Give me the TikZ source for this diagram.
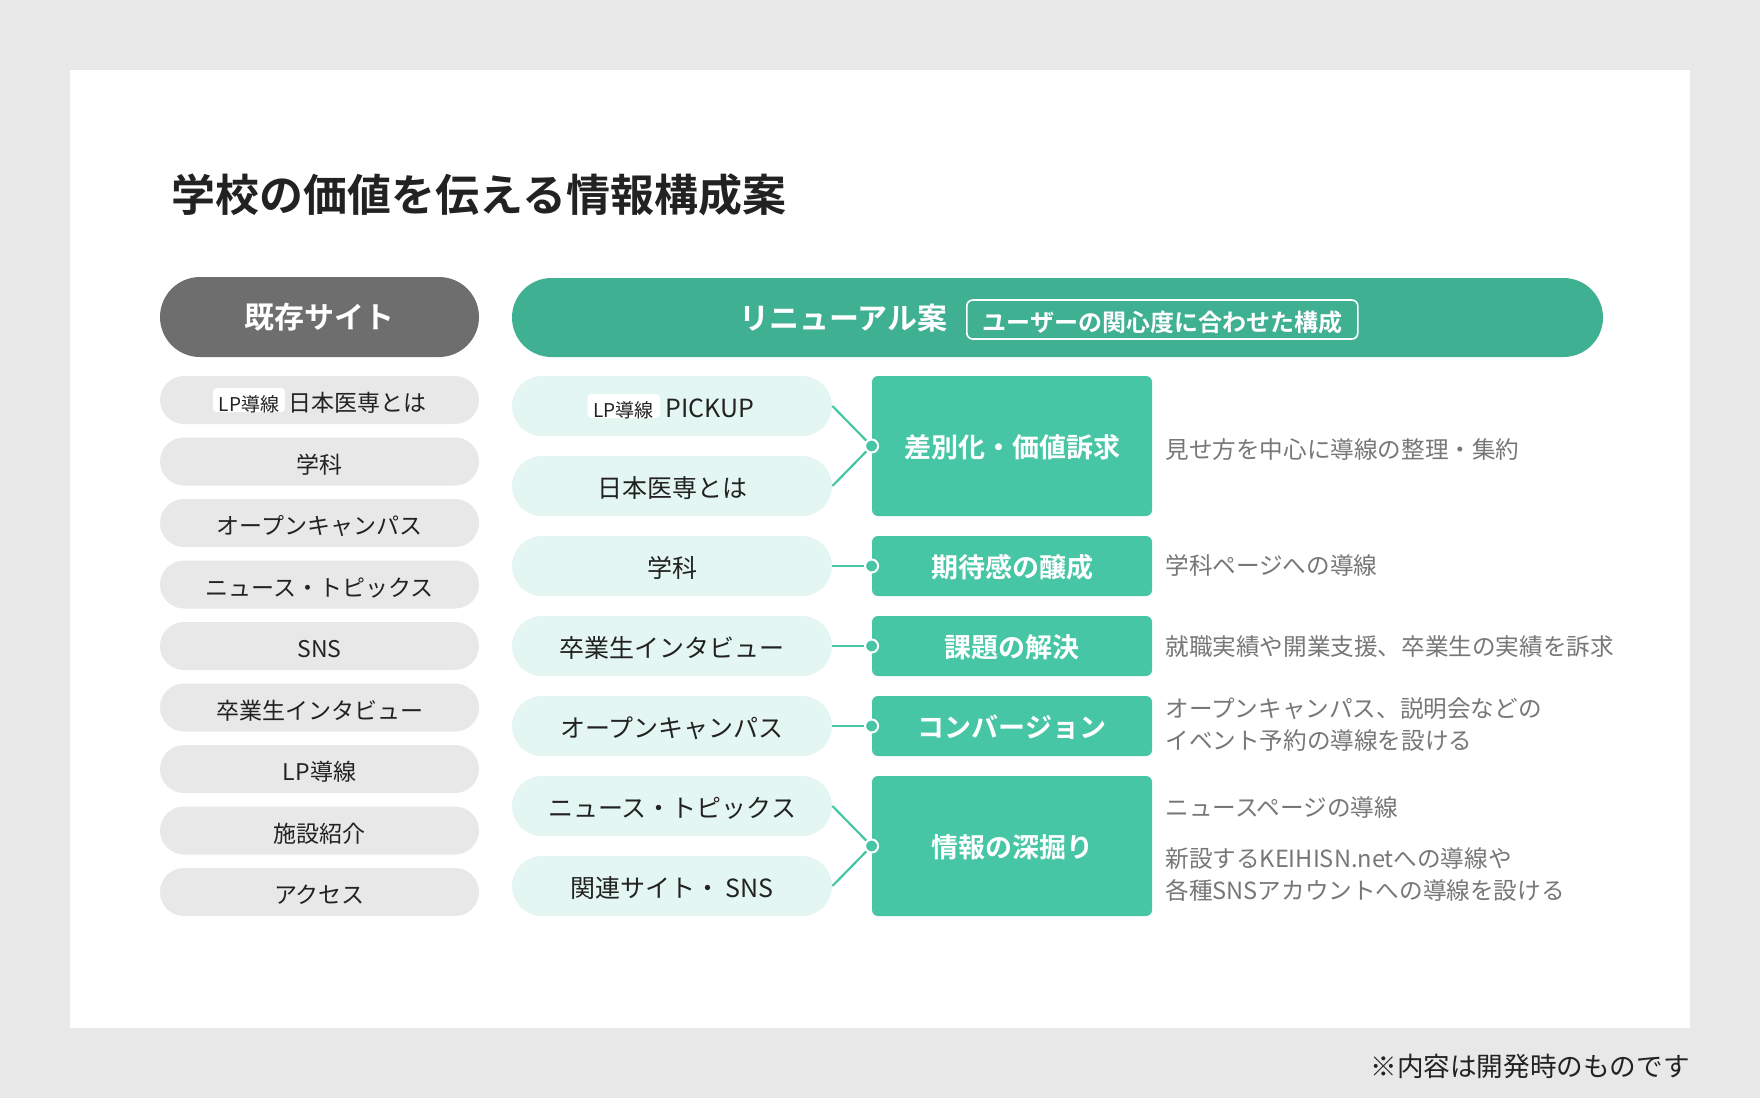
\documentclass[tikz,border=0pt]{standalone}
\usepackage{fontspec}
\setmainfont{Noto Sans CJK JP}[BoldFont={* Bold}]
\usetikzlibrary{positioning}
\definecolor{bggray}{HTML}{E8E8E8}
\definecolor{pillgray}{HTML}{E8E8E8}
\definecolor{headgray}{HTML}{6E6E6E}
\definecolor{headgreen}{HTML}{3FB091}
\definecolor{boxgreen}{HTML}{46C6A4}
\definecolor{mint}{HTML}{E3F6F1}
\definecolor{ink}{HTML}{222222}
\definecolor{notegray}{HTML}{777777}
\tikzset{
  textmid/.style={text height=1.16em, text depth=0pt},
  oldpill/.style={fill=pillgray, rounded corners=12pt, minimum width=159.5pt, minimum height=24pt, inner sep=0pt, text=ink, textmid, font=\fontsize{11.5pt}{14pt}\selectfont},
  newpill/.style={fill=mint, rounded corners=15pt, minimum width=160pt, minimum height=30pt, inner sep=0pt, text=ink, textmid, font=\fontsize{12.5pt}{15pt}\selectfont},
  goalbox/.style={fill=boxgreen, rounded corners=3pt, minimum width=140pt, inner sep=0pt, text=white, textmid, font=\bfseries\fontsize{13.5pt}{16pt}\selectfont},
  tagbox/.style={fill=white, rounded corners=2pt, inner xsep=3pt, inner ysep=0pt, minimum height=12pt, text=ink, textmid, font=\fontsize{9.5pt}{11pt}\selectfont},
  plain/.style={inner sep=0pt, text=ink},
  note/.style={anchor=west, inner sep=0pt, text=notegray, align=left, font=\fontsize{11.8pt}{16pt}\selectfont},
  link/.style={draw=boxgreen, line width=1.1pt},
  joint/.style={circle, fill=boxgreen, draw=white, line width=1pt, inner sep=0pt, minimum size=6.5pt},
}
\begin{document}
\begin{tikzpicture}[x=0.5pt,y=-0.5pt]
  % background and panel
  \fill[bggray] (0,0) rectangle (1760,1098);
  \useasboundingbox (0,0) rectangle (1760,1098);
  \fill[white] (70,70) rectangle (1690,1028);
  \node[plain, anchor=west, font=\bfseries\fontsize{22pt}{26pt}\selectfont] (title) at (171,195) {学校の価値を伝える情報構成案};

  % headers
  \node[fill=headgray, rounded corners=20pt, minimum width=159.5pt, minimum height=40pt, text=white, textmid, font=\bfseries\fontsize{15pt}{18pt}\selectfont] (oldhead) at (319.5,317) {既存サイト};
  \node[fill=headgreen, rounded corners=19.75pt, minimum width=545.5pt, minimum height=39.5pt] (newhead) at (1057.5,317.5) {};
  \node[plain, anchor=east, text=white, textmid, font=\bfseries\fontsize{15pt}{18pt}\selectfont] (newtitle) at (948,318) {リニューアル案};
  \node[draw=white, line width=0.8pt, rounded corners=3pt, anchor=west, minimum width=195.5pt, minimum height=19.5pt, inner sep=0pt, text=white, textmid, font=\bfseries\fontsize{12pt}{14pt}\selectfont] (newsub) at (966,319.5) {ユーザーの関心度に合わせた構成};

  % existing site
  \node[oldpill] (old1) at (319.5,400) {};
  \node[plain, textmid, font=\fontsize{11.5pt}{14pt}\selectfont] (old1txt) at (357,400) {日本医専とは};
  \node[tagbox, left=1pt of old1txt] (old1tag) {LP導線};
  \node[oldpill] (old2) at (319.5,461.5) {学科};
  \node[oldpill] (old3) at (319.5,523) {オープンキャンパス};
  \node[oldpill] (old4) at (319.5,584.5) {ニュース・トピックス};
  \node[oldpill] (old5) at (319.5,646) {SNS};
  \node[oldpill] (old6) at (319.5,707.5) {卒業生インタビュー};
  \node[oldpill] (old7) at (319.5,769) {LP導線};
  \node[oldpill] (old8) at (319.5,830.5) {施設紹介};
  \node[oldpill] (old9) at (319.5,892) {アクセス};

  % renewal pages
  \node[newpill] (new1) at (672,406) {};
  \node[plain, textmid, font=\fontsize{12.5pt}{15pt}\selectfont] (new1txt) at (710,406) {PICKUP};
  \node[tagbox, left=2.5pt of new1txt] (new1tag) {LP導線};
  \node[newpill] (new2) at (672,486) {日本医専とは};
  \node[newpill] (new3) at (672,566) {学科};
  \node[newpill] (new4) at (672,646) {卒業生インタビュー};
  \node[newpill] (new5) at (672,726) {オープンキャンパス};
  \node[newpill] (new6) at (672,806) {ニュース・トピックス};
  \node[newpill] (new7) at (672,886) {関連サイト・ SNS};

  % goals
  \node[goalbox, minimum height=70pt] (goal1) at (1012,446) {差別化・価値訴求};
  \node[goalbox, minimum height=30pt] (goal2) at (1012,566) {期待感の醸成};
  \node[goalbox, minimum height=30pt] (goal3) at (1012,646) {課題の解決};
  \node[goalbox, minimum height=30pt] (goal4) at (1012,726) {コンバージョン};
  \node[goalbox, minimum height=70pt] (goal5) at (1012,846) {情報の深掘り};

  % links
  \draw[link] (new1.east) -- (goal1.west);
  \draw[link] (new2.east) -- (goal1.west);
  \draw[link] (new3.east) -- (goal2.west);
  \draw[link] (new4.east) -- (goal3.west);
  \draw[link] (new5.east) -- (goal4.west);
  \draw[link] (new6.east) -- (goal5.west);
  \draw[link] (new7.east) -- (goal5.west);
  \node[joint] (joint1) at (goal1.west) {};
  \node[joint] (joint2) at (goal2.west) {};
  \node[joint] (joint3) at (goal3.west) {};
  \node[joint] (joint4) at (goal4.west) {};
  \node[joint] (joint5) at (goal5.west) {};

  % notes
  \node[note] (note1) at (1165,450) {見せ方を中心に導線の整理・集約};
  \node[note] (note2) at (1165,565) {学科ページへの導線};
  \node[note] (note3) at (1165,647) {就職実績や開業支援、卒業生の実績を訴求};
  \node[note] (note4) at (1165,725) {オープンキャンパス、説明会などの\\イベント予約の導線を設ける};
  \node[note] (note5) at (1165,807) {ニュースページの導線};
  \node[note] (note6) at (1165,874.5) {新設するKEIHISN.netへの導線や\\各種SNSアカウントへの導線を設ける};

  \node[plain, anchor=east, text=ink, font=\fontsize{13.3pt}{15pt}\selectfont] (footnote) at (1690,1066) {※内容は開発時のものです};
\end{tikzpicture}
\end{document}
